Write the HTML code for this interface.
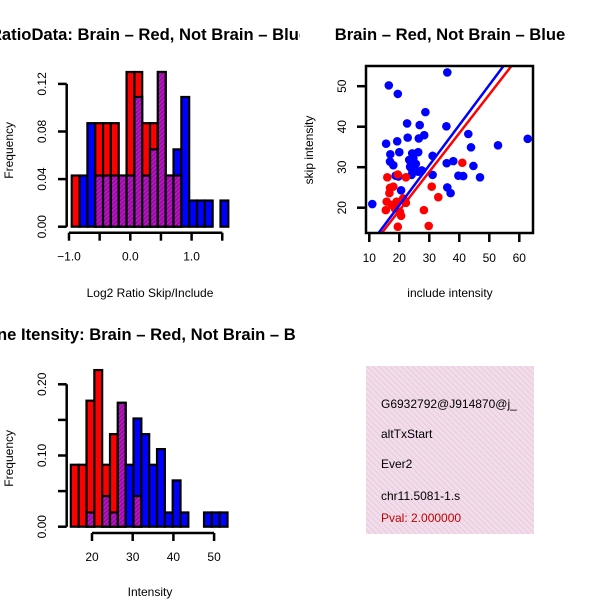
<!DOCTYPE html>
<html><head><meta charset="utf-8"><style>
html,body{margin:0;padding:0;background:#fff;}
svg{display:block;font-family:"Liberation Sans",sans-serif;}
</style></head><body>
<svg id="chart" width="600" height="600" viewBox="0 0 600 600" xmlns="http://www.w3.org/2000/svg">
<defs>
<pattern id="purp" width="3" height="3" patternUnits="userSpaceOnUse" patternTransform="rotate(45)"><rect width="3" height="3" fill="#9a0aa6"/><rect width="1" height="3" fill="#c020c8"/></pattern>
<pattern id="pink" width="4" height="4" patternUnits="userSpaceOnUse" patternTransform="rotate(-45)"><rect width="4" height="4" fill="#f8d8f2"/><rect width="1.1" height="4" fill="#d8d8c8"/></pattern>
<clipPath id="c1"><rect x="0" y="0" width="300" height="300"/></clipPath>
<clipPath id="c3"><rect x="0" y="300" width="300" height="300"/></clipPath>
<clipPath id="cbox"><rect x="366" y="66" width="167" height="167"/></clipPath>
<clipPath id="c4"><rect x="366" y="366" width="168" height="168"/></clipPath>
</defs>
<g id="p1"></g>
<g id="p2"></g>
<g id="p3"></g>
<g id="p4">
<rect x="366" y="366" width="168" height="168" fill="url(#pink)"/>
<g clip-path="url(#c4)" font-size="12">
<text x="381" y="408">G6932792@J914870@j_</text>
<text x="381" y="438">altTxStart</text>
<text x="381" y="468">Ever2</text>
<text x="381" y="500">chr11.5081-1.s</text>
<text x="381" y="522" fill="#c00000">Pval: 2.000000</text>
</g>
</g>
</svg>
<script>
// Panel 1 data: ratio histogram
const ratioStart = -0.955;
const ratioBin = 0.1277;
const ratioRed  = [0.043,0,0,0.087,0.087,0.087,0.043,0.13,0.13,0.087,0.087,0.13,0.043,0.043,0,0,0,0,0,0];
const ratioBlue = [0,0.043,0.087,0.043,0.043,0.043,0.043,0.043,0.109,0.043,0.065,0.13,0.043,0.065,0.109,0.022,0.022,0.022,0,0.022];
const ratioYTicks = [0,0.04,0.08,0.12];
const ratioYLabels = ["0.00","0.04","0.08","0.12"];
const ratioXTicks = [-1.0,-0.5,0,0.5,1.0,1.5];
const ratioXLabels = ["-1.0","","0.0","","1.0",""];
// Panel 3 data: intensity histogram
const intStart = 14.8;
const intBin = 1.925;
const intRed  = [0.087,0.087,0.177,0.22,0.087,0.13,0.174,0,0.043,0,0,0,0,0,0,0,0,0,0,0];
const intBlue = [0,0,0.02,0,0.043,0.02,0.174,0.087,0.152,0.13,0.087,0.109,0.02,0.065,0.02,0,0,0.02,0.02,0.02];
const intYTicks = [0,0.05,0.10,0.15,0.20];
const intYLabels = ["0.00","","0.10","","0.20"];
const intXTicks = [20,30,40,50];
const intXLabels = ["20","30","40","50"];
// Panel 2 data: scatter
const blueX = [11.0,16.5,19.5,36,28.7,22.6,26.8,35.7,22.8,28.3,26.5,43,52.9,62.8,43.9,15.6,19.3,17,20,24.3,26.3,24.7,23.3,31.1,16.9,18,23.6,35.8,38,44.7,18.8,19.7,24.1,26.3,24.1,31.1,39.7,41.3,46.9,36,37.1,20.6,25.5,27.5];
const blueY = [20.9,50.2,48.1,53.4,43.6,40.8,40.4,40.1,37.3,37.9,37.1,38.2,35.4,37,34.9,35.8,36.4,33.2,33.7,33.4,33.7,32.2,31.8,32.8,31.4,30.5,30.1,31,31.5,30.3,27.9,27.7,28.1,28.9,29.6,28.1,27.9,27.8,27.5,25,23.6,24.3,30.8,29.2];
const redX = [16,22.2,19.5,16.9,18,16.7,15.8,17.5,15.5,19.1,21.3,22.2,20.6,19.5,29.8,28.2,30.8,33,41,20.2,18.5];
const redY = [27.5,27.5,28.2,24.9,25.2,23.6,21.5,20.7,19.4,21.5,22.3,21.2,18,15.3,15.5,19.4,25.2,22.6,31.1,19,19.8];
const blueFit = [0.8,0.99];
const redFit = [0.25,0.954];
const scatXTicks = [10,20,30,40,50,60];
const scatYTicks = [20,30,40,50];

const NS="http://www.w3.org/2000/svg";
function mk(parent,tag,attrs){const e=document.createElementNS(NS,tag);for(const k in attrs)e.setAttribute(k,attrs[k]);parent.appendChild(e);return e;}

function hist(g,clip,title,titleX,titleAnchor,xlab,xlabY,start,bin,red,blue,sx,sy,yTicks,yLabels,xTicks,xLabels,yAxisTop,xAxisY,titleY,y0,name){
  const t=mk(g,'text',{x:titleX,y:titleY,'font-size':16.6,'font-weight':'bold','text-anchor':titleAnchor,'clip-path':clip});
  t.textContent=title;
  
  
  for(let i=0;i<red.length;i++){
    const x0=sx(start+i*bin), x1=sx(start+(i+1)*bin);
    const r=red[i], b=blue[i], m=Math.min(r,b), M=Math.max(r,b);
    if(M<=0) continue;
    const top=mk(g,'rect',{x:x0,y:sy(M),width:x1-x0,height:y0-sy(M),fill:r>=b?'#ff0000':'#0000ff',stroke:'#000','stroke-width':2.2});
    
    
    if(m>0){
      const p=mk(g,'rect',{x:x0,y:sy(m),width:x1-x0,height:y0-sy(m),fill:'url(#purp)',stroke:'#000','stroke-width':2.2});
      
      
    }
  }
  const ya=mk(g,'line',{x1:66.7,x2:66.7,y1:sy(yTicks[yTicks.length-1]),y2:y0,stroke:'#000','stroke-width':2.5});
  
  
  yTicks.forEach((v,i)=>{
    mk(g,'line',{x1:58,x2:66.7,y1:sy(v),y2:sy(v),stroke:'#000','stroke-width':2.5});
    if(yLabels[i]){const l=mk(g,'text',{x:0,y:0,'font-size':12,'text-anchor':'middle',transform:`translate(46,${sy(v)}) rotate(-90)`});l.textContent=yLabels[i];
      
      }
  });
  const xa=mk(g,'line',{x1:sx(xTicks[0]),x2:sx(xTicks[xTicks.length-1]),y1:xAxisY,y2:xAxisY,stroke:'#000','stroke-width':2.5});
  
  
  xTicks.forEach((v,i)=>{
    mk(g,'line',{x1:sx(v),x2:sx(v),y1:xAxisY,y2:xAxisY+8,stroke:'#000','stroke-width':2.5});
    if(xLabels[i]){const l=mk(g,'text',{x:sx(v),y:xAxisY+28,'font-size':12,'text-anchor':'middle'});l.textContent=xLabels[i].replace('-','\u2212');
      
      }
  });
  const yl=mk(g,'text',{x:0,y:0,'font-size':12,'text-anchor':'middle',transform:`translate(13,${(y0+yAxisTop)/2}) rotate(-90)`});
  yl.textContent='Frequency';
  
  
  const xl=mk(g,'text',{x:150,y:xlabY,'font-size':12,'text-anchor':'middle'});
  xl.textContent=xlab;
  
  
}

// Panel 1
{
  const g=document.getElementById('p1');
  const sx=v=>130.3+v*61.3;
  const sy=v=>226.7-v/0.04*47.6;
  hist(g,'url(#c1)','RatioData: Brain \u2013 Red, Not Brain \u2013 Blue',149,'middle','Log2 Ratio Skip/Include',297,ratioStart,ratioBin,ratioRed,ratioBlue,sx,sy,ratioYTicks,ratioYLabels,ratioXTicks,ratioXLabels,74,232.7,40,226.7,'ratio');
}
// Panel 3
{
  const g=document.getElementById('p3');
  const sx=v=>92+(v-20)*4.07;
  const sy=v=>526.7-v*712;
  hist(g,'url(#c3)','ne Itensity: Brain \u2013 Red, Not Brain \u2013 B',-3,'start','Intensity',596,intStart,intBin,intRed,intBlue,sx,sy,intYTicks,intYLabels,intXTicks,intXLabels,390,533,340,526.7,'intensity');
}
// Panel 2
{
  const g=document.getElementById('p2');
  const sx=v=>369.3+(v-10)*3.0;
  const sy=v=>207.7-(v-20)*4.05;
  const t=mk(g,'text',{x:450,y:40,'font-size':16.6,'font-weight':'bold','text-anchor':'middle'});
  t.textContent='Brain \u2013 Red, Not Brain \u2013 Blue';
  
  
  const pts=mk(g,'g',{'clip-path':'url(#cbox)'});
  blueX.forEach((x,i)=>{const c=mk(pts,'circle',{cx:sx(x),cy:sy(blueY[i]),r:4.3,fill:'#0000ff'});
    
    });
  redX.forEach((x,i)=>{const c=mk(pts,'circle',{cx:sx(x),cy:sy(redY[i]),r:4.3,fill:'#ff0000'});
    
    });
  const bl=mk(pts,'line',{x1:sx(0),y1:sy(blueFit[0]),x2:sx(80),y2:sy(blueFit[0]+blueFit[1]*80),stroke:'#0000ff','stroke-width':2.5});
  
  
  const rl=mk(pts,'line',{x1:sx(0),y1:sy(redFit[0]),x2:sx(80),y2:sy(redFit[0]+redFit[1]*80),stroke:'#ff0000','stroke-width':2.5});
  
  
  const box=mk(g,'rect',{x:366,y:66,width:167,height:167,fill:'none',stroke:'#000','stroke-width':2.5});
  
  
  scatXTicks.forEach(v=>{
    mk(g,'line',{x1:sx(v),x2:sx(v),y1:233,y2:242,stroke:'#000','stroke-width':2.5});
    const l=mk(g,'text',{x:sx(v),y:262,'font-size':12,'text-anchor':'middle'});l.textContent=v;
    
    
  });
  scatYTicks.forEach(v=>{
    mk(g,'line',{x1:357,x2:366,y1:sy(v),y2:sy(v),stroke:'#000','stroke-width':2.5});
    const l=mk(g,'text',{x:0,y:0,'font-size':12,'text-anchor':'middle',transform:`translate(346,${sy(v)}) rotate(-90)`});l.textContent=v;
    
    
  });
  const xl=mk(g,'text',{x:450,y:297,'font-size':12,'text-anchor':'middle'});xl.textContent='include intensity';
  
  
  const yl=mk(g,'text',{x:0,y:0,'font-size':12,'text-anchor':'middle',transform:'translate(313,150) rotate(-90)'});yl.textContent='skip intensity';
  
  
}
</script>
</body></html>
